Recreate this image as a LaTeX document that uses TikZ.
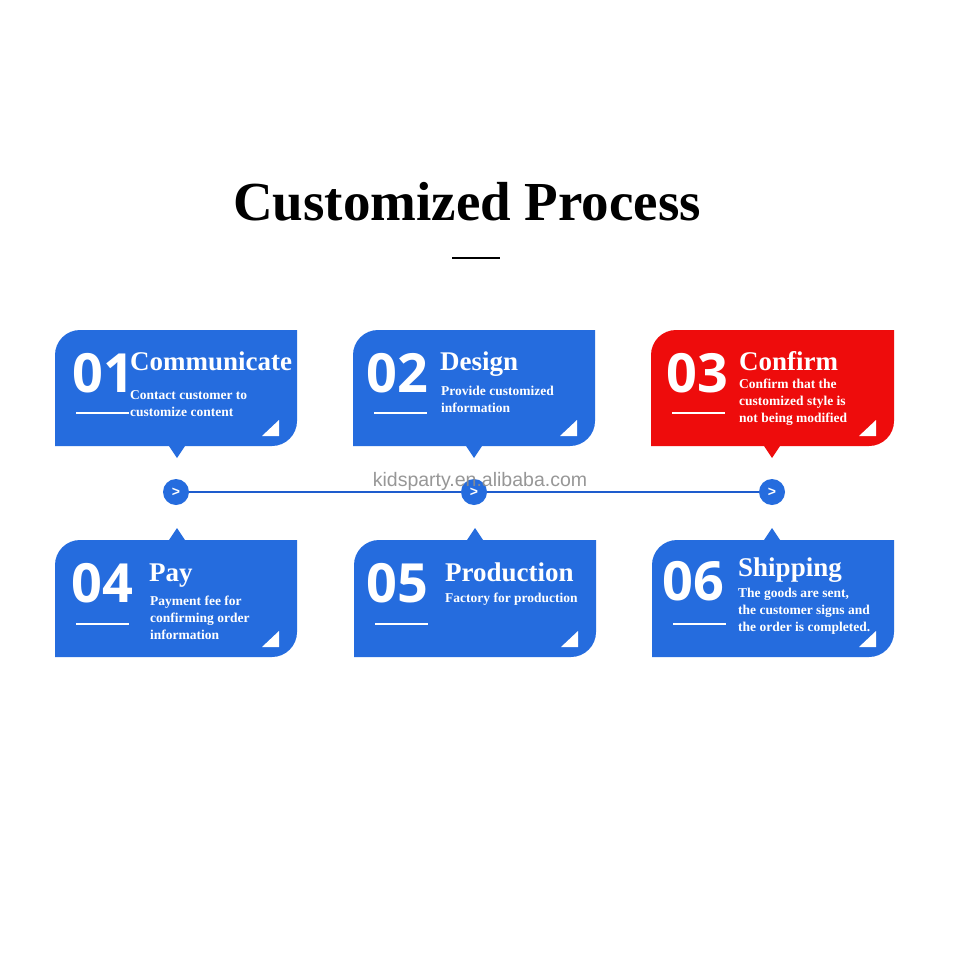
\documentclass[tikz,border=0pt]{standalone}
\usepackage{fontspec}
\setmainfont{Liberation Serif}
\newfontfamily\numfont{Open Sans}
\newfontfamily\wmfont{Liberation Sans}
\usetikzlibrary{backgrounds}
\definecolor{boxblue}{RGB}{37,108,222}
\definecolor{boxred}{RGB}{238,12,12}
\definecolor{lineblue}{RGB}{30,92,205}
\newcommand{\bubbledown}[6]{%
\fill[#6] (#1,{#2+25}) .. controls (#1,{#2+11.2}) and ({#1+11.2},#2) .. ({#1+25},#2) -- (#3,#2) -- (#3,{#4-25}) .. controls (#3,{#4-11.2}) and ({#3-11.2},#4) .. ({#3-25},#4) -- ({#5+8},#4) -- (#5,{#4+12}) -- ({#5-8},#4) -- (#1,#4) -- cycle;
\fill[white] ({#3-35},{#4-10}) -- ({#3-18},{#4-10}) -- ({#3-18},{#4-26}) -- cycle;
\draw[white,line width=2] ({#1+21},{#2+83}) -- ({#1+74},{#2+83});}
\newcommand{\bubbleup}[6]{%
\fill[#6] (#1,{#2+25}) .. controls (#1,{#2+11.2}) and ({#1+11.2},#2) .. ({#1+25},#2) -- ({#5-8},#2) -- (#5,{#2-12}) -- ({#5+8},#2) -- (#3,#2) -- (#3,{#4-25}) .. controls (#3,{#4-11.2}) and ({#3-11.2},#4) .. ({#3-25},#4) -- (#1,#4) -- cycle;
\fill[white] ({#3-35},{#4-10}) -- ({#3-18},{#4-10}) -- ({#3-18},{#4-26}) -- cycle;
\draw[white,line width=2] ({#1+21},{#2+84}) -- ({#1+74},{#2+84});}
\tikzset{
  num/.style={anchor=base west,inner sep=0,text=white,font=\numfont\bfseries\fontsize{54}{54}\selectfont},
  ttl/.style={anchor=base west,inner sep=0,text=white,font=\bfseries\fontsize{27}{27}\selectfont},
  desc/.style={anchor=base west,inner sep=0,text=white,font=\bfseries\fontsize{13.5}{17}\selectfont,align=left},
  dot/.style={circle,fill=boxblue,minimum size=26,inner sep=0,text=white,font=\wmfont\bfseries\fontsize{14}{14}\selectfont}
}
\begin{document}
\begin{tikzpicture}[x=1pt,y=-1pt]
\useasboundingbox (0,0) rectangle (960,960);
\node[anchor=base,inner sep=0,font=\bfseries\fontsize{55}{55}\selectfont] (title) at (467,220) {Customized Process};
\draw[line width=1.3] (452,258) -- (500,258);

\bubbledown{55}{330}{297}{446}{177}{boxblue}
\bubbledown{353}{330}{595}{446}{474}{boxblue}
\bubbledown{651}{330}{894}{446}{772}{boxred}
\bubbleup{55}{540}{297}{657}{177}{boxblue}
\bubbleup{354}{540}{596}{657}{475}{boxblue}
\bubbleup{652}{540}{894}{657}{772}{boxblue}

\node[num] (n1) at (72,392) {01};
\node[ttl] (t1) at (130,370) {Communicate};
\node[desc] (d1) at (130,416) {Contact customer to\\customize content};

\node[num] (n2) at (366,392) {02};
\node[ttl] (t2) at (440,370) {Design};
\node[desc] (d2) at (441,412) {Provide customized\\information};

\node[num] (n3) at (666,392) {03};
\node[ttl] (t3) at (739,370) {Confirm};
\node[desc] (d3) at (739,422) {Confirm that the\\customized style is\\not being modified};

\node[num] (n4) at (71,602) {04};
\node[ttl] (t4) at (149,581) {Pay};
\node[desc] (d4) at (150,639) {Payment fee for\\confirming order\\information};

\node[num] (n5) at (366,602) {05};
\node[ttl] (t5) at (445,581) {Production};
\node[desc] (d5) at (445,602) {Factory for production};

\node[num] (n6) at (662,600) {06};
\node[ttl] (t6) at (738,576) {Shipping};
\node[desc] (d6) at (738,631) {The goods are sent,\\the customer signs and\\the order is completed.};

\node[dot] (c1) at (176,492) {>};
\node[dot] (c2) at (474,492) {>};
\node[dot] (c3) at (772,492) {>};
\begin{scope}[on background layer]
\fill[white] (0,0) rectangle (960,960);
\draw[lineblue,line width=2.2] (c1) -- (c3);
\end{scope}
\node[anchor=base,inner sep=0,text=black!45,opacity=0.9,font=\wmfont\fontsize{19.5}{19.5}\selectfont] (wm) at (480,486) {kidsparty.en.alibaba.com};
\end{tikzpicture}
\end{document}
